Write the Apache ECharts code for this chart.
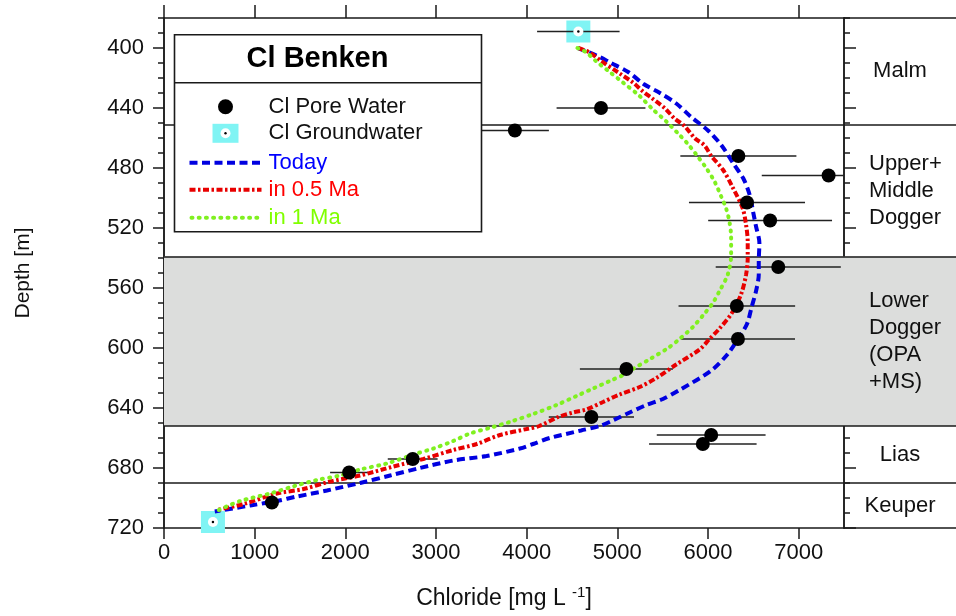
<!DOCTYPE html>
<html><head><meta charset="utf-8">
<script src="https://cdn.jsdelivr.net/npm/echarts@6/dist/echarts.min.js"></script>
<style>html,body{margin:0;padding:0;background:#fff}#c{width:956px;height:616px}</style>
</head><body><div id="c"></div>
<script>
// ---------- data ----------
const xTicks = [0, 1000, 2000, 3000, 4000, 5000, 6000, 7000];
const depthTicks = [400, 440, 480, 520, 560, 600, 640, 680, 720];

const poreDepth = [440, 455, 472, 485, 503, 515, 546, 572, 594, 614, 646, 658, 664, 674, 683, 703];
const poreCl    = [4820, 3870, 6335, 7330, 6430, 6685, 6775, 6318, 6330, 5100, 4714, 6035, 5943, 2743, 2042, 1190];
const poreErr   = [490, 375, 640, 737, 640, 683, 690, 643, 630, 513, 470, 600, 593, 275, 210, 60];

const gwDepth = [389, 716];
const gwCl    = [4570, 540];
const gwErr   = [455, 0];

const todayDepth = [400,405,410,416,424,430,437,446,455,465,478,487,498,510,519,530,542,551,562,573,584,594,604,615,628,634,638,643,648,652,655,660,664,667,672,675,680,685,690,695,699,702,705,709];
const todayCl    = [4560,4770,4930,5120,5290,5470,5650,5815,6000,6150,6290,6390,6460,6500,6530,6567,6560,6560,6530,6480,6430,6330,6218,6036,5686,5503,5320,5136,4960,4806,4600,4255,4071,3925,3558,3191,2824,2494,2163,1797,1467,1246,952,560];

const half1Depth = [400,403,408,417,423,429,434,440,447,452,460,465,472,481,493,507,518,529,540,551,564,577,587,594,601,611,620,626,631,636,641,643,646,652,654,658,664,668,674,679,685,689,694,697,704,708];
const half1Cl    = [4570,4696,4806,5026,5172,5283,5393,5521,5631,5741,5852,5962,6036,6163,6273,6383,6420,6438,6438,6420,6366,6260,6127,6017,5907,5650,5430,5246,5026,4842,4659,4512,4350,4140,3999,3705,3448,3191,2861,2530,2163,1833,1539,1246,879,585];

const one1Depth = [400,403,409,416,423,432,441,449,458,464,471,480,489,499,507,516,526,538,551,562,570,577,586,594,600,607,614,617,622,627,632,638,644,649,653,657,662,667,671,677,681,685,688,692,697,702,709];
const one1Cl    = [4560,4659,4769,4916,5062,5246,5393,5540,5686,5778,5870,5980,6072,6146,6200,6237,6255,6255,6218,6127,6053,5962,5833,5686,5560,5370,5172,5100,4916,4732,4550,4330,4071,3830,3610,3375,3191,2971,2751,2457,2163,1943,1687,1440,1170,842,567];

const formationNames  = ['Malm', 'Upper+\nMiddle\nDogger', 'Lower\nDogger\n(OPA\n+MS)', 'Lias', 'Keuper'];
const formationTop    = [380, 451, 539, 652, 690];
const formationBottom = [451, 539, 652, 690, 720];
const shadedFormation = 'Lower\nDogger\n(OPA\n+MS)';

const seriesNames = ['Cl Pore Water', 'Cl Groundwater', 'Today', 'in 0.5 Ma', 'in 1 Ma'];

// ---------- style ----------
const FONT = 'Liberation Sans, Arial, sans-serif';
const C_BLUE = '#0000e0', C_RED = '#e80000', C_GREEN = '#80f020', C_CYAN = '#80f4f4', C_GRAY = '#dcdddc', C_LINE = '#1a1a1a';
const Y_MIN = 380, Y_MAX = 720, X_MAX = 7500;

const pairs = (xs, ys) => xs.map((v, i) => [v, ys[i]]);
const boundaryDepths = formationTop.slice(1);

const chart = echarts.init(document.getElementById('c'), null, {renderer: 'canvas'});

function yAx(grid, pos, opts) {
  return Object.assign({
    type: 'value', gridIndex: grid, position: pos, inverse: true, min: Y_MIN, max: Y_MAX,
    splitLine: {show: false},
    axisLine: {show: true, lineStyle: {color: C_LINE, width: 1.5}},
    axisLabel: {show: false}, axisTick: {show: false}
  }, opts);
}

const errorSeries = (xs, ys, es, name) => ({
  type: 'custom', name: name, xAxisIndex: 0, yAxisIndex: 0, z: 4, clip: true, silent: true,
  data: xs.map((v, i) => [v, ys[i], es[i]]),
  renderItem: function (params, api) {
    const x = api.value(0), y = api.value(1), e = api.value(2);
    if (!e) return null;
    const p1 = api.coord([x - e, y]), p2 = api.coord([x + e, y]);
    return {type: 'line', shape: {x1: p1[0], y1: p1[1], x2: p2[0], y2: p2[1]},
      style: {stroke: '#222', lineWidth: 1.6}};
  }
});

const LZ = 100;
const option = {
  animation: false,
  backgroundColor: '#fff',
  textStyle: {fontFamily: FONT},
  grid: [
    {left: 164, right: 112, top: 18, bottom: 88, containLabel: false},
    {left: 844, right: 0, top: 18, bottom: 88, containLabel: false}
  ],
  xAxis: [
    {type: 'value', gridIndex: 0, position: 'bottom', min: 0, max: X_MAX, interval: 1000,
     splitLine: {show: false},
     axisLine: {show: true, onZero: false, lineStyle: {color: C_LINE, width: 1.5}},
     axisTick: {show: true, length: 11, lineStyle: {color: C_LINE, width: 1.5}, customValues: xTicks},
     axisLabel: {show: true, margin: 14, fontSize: 22, color: '#111', fontFamily: FONT, customValues: xTicks,
                 formatter: v => String(v)},
     name: 'Chloride [mg L {sup|-1}]', nameLocation: 'middle', nameGap: 57,
     nameTextStyle: {fontSize: 23, color: '#111', fontFamily: FONT,
       rich: {sup: {fontSize: 15, color: '#111', fontFamily: FONT, verticalAlign: 'top', padding: [0, 0, 12, 0]}}}},
    {type: 'value', gridIndex: 0, position: 'top', min: 0, max: X_MAX, interval: 1000,
     splitLine: {show: false},
     axisLine: {show: true, onZero: false, lineStyle: {color: C_LINE, width: 1.5}},
     axisTick: {show: true, length: 13, lineStyle: {color: C_LINE, width: 1.5}, customValues: xTicks},
     axisLabel: {show: false}},
    {type: 'value', gridIndex: 1, position: 'bottom', min: 0, max: 1, splitLine: {show: false},
     axisLine: {show: true, onZero: false, lineStyle: {color: C_LINE, width: 1.5}},
     axisTick: {show: false}, axisLabel: {show: false}},
    {type: 'value', gridIndex: 1, position: 'top', min: 0, max: 1, splitLine: {show: false},
     axisLine: {show: true, onZero: false, lineStyle: {color: C_LINE, width: 1.5}},
     axisTick: {show: false}, axisLabel: {show: false}}
  ],
  yAxis: [
    yAx(0, 'left', {
      axisTick: {show: true, length: 11, lineStyle: {color: C_LINE, width: 1.5}, customValues: depthTicks},
      axisLabel: {show: true, margin: 20, fontSize: 22, color: '#111', fontFamily: FONT, customValues: depthTicks},
      name: 'Depth [m]', nameLocation: 'middle', nameRotate: 90, nameGap: 130,
      nameTextStyle: {fontSize: 21, color: '#111', fontFamily: FONT}
    }),
    yAx(0, 'left', {interval: 10, axisTick: {show: true, length: 6, lineStyle: {color: C_LINE, width: 1.5}}}),
    yAx(0, 'right', {axisTick: {show: true, length: 12, lineStyle: {color: C_LINE, width: 1.5}, customValues: depthTicks}}),
    yAx(0, 'right', {interval: 10, axisTick: {show: true, length: 6, lineStyle: {color: C_LINE, width: 1.5}}}),
    yAx(1, 'left', {axisLine: {show: false}})
  ],
  series: [
    {type: 'line', name: 'bands', xAxisIndex: 0, yAxisIndex: 0, data: [], z: 1, silent: true,
     markArea: {silent: true, itemStyle: {color: C_GRAY},
       data: formationNames.map((n, i) => n === shadedFormation ? [{yAxis: formationTop[i]}, {yAxis: formationBottom[i]}] : null).filter(Boolean)},
     markLine: {silent: true, symbol: ['none', 'none'], label: {show: false},
       lineStyle: {color: C_LINE, width: 1.6, type: 'solid'},
       data: boundaryDepths.map(d => ({yAxis: d}))}},
    {type: 'line', name: 'formations', xAxisIndex: 2, yAxisIndex: 4, data: [], z: 1, silent: true,
     markArea: {silent: true,
       data: formationNames.map((n, i) => {
         const multi = n.indexOf('\n') >= 0;
         return [{yAxis: formationTop[i], name: n,
                  itemStyle: {color: n === shadedFormation ? C_GRAY : 'rgba(0,0,0,0)'},
                  label: {show: true, position: multi ? 'insideLeft' : 'inside', distance: multi ? 25 : 0,
                          align: multi ? 'left' : 'center', verticalAlign: 'middle',
                          fontSize: 22, lineHeight: 27, color: '#111', fontFamily: FONT}},
                 {yAxis: formationBottom[i]}];
       })},
     markLine: {silent: true, symbol: ['none', 'none'], label: {show: false},
       lineStyle: {color: C_LINE, width: 1.6, type: 'solid'},
       data: boundaryDepths.map(d => ({yAxis: d}))}},
    errorSeries(gwCl, gwDepth, gwErr, 'gwErr'),
    errorSeries(poreCl, poreDepth, poreErr, 'poreErr'),
    {type: 'line', name: seriesNames[2], xAxisIndex: 0, yAxisIndex: 0, data: pairs(todayCl, todayDepth),
     showSymbol: false, smooth: 0.3, z: 5,
     lineStyle: {color: C_BLUE, width: 4, type: [8, 4.5], cap: 'butt'}},
    {type: 'line', name: seriesNames[3], xAxisIndex: 0, yAxisIndex: 0, data: pairs(half1Cl, half1Depth),
     showSymbol: false, smooth: 0.3, z: 6,
     lineStyle: {color: C_RED, width: 4, type: [6, 2.5, 2.5, 2.5], cap: 'butt'}},
    {type: 'line', name: seriesNames[4], xAxisIndex: 0, yAxisIndex: 0, data: pairs(one1Cl, one1Depth),
     showSymbol: false, smooth: 0.3, z: 7,
     lineStyle: {color: C_GREEN, width: 4, type: [1, 6.2], cap: 'round'}},
    {type: 'scatter', name: seriesNames[0], xAxisIndex: 0, yAxisIndex: 0, data: pairs(poreCl, poreDepth),
     symbol: 'circle', symbolSize: 14, z: 8, itemStyle: {color: '#000', opacity: 1}},
    {type: 'scatter', name: seriesNames[1], xAxisIndex: 0, yAxisIndex: 0, data: pairs(gwCl, gwDepth),
     symbol: 'rect', symbolSize: [24, 22], z: 3, itemStyle: {color: C_CYAN, opacity: 1}},
    {type: 'scatter', name: 'gwRing', xAxisIndex: 0, yAxisIndex: 0, data: pairs(gwCl, gwDepth),
     symbol: 'circle', symbolSize: 10, z: 9, itemStyle: {color: '#fff', opacity: 1}},
    {type: 'scatter', name: 'gwDot', xAxisIndex: 0, yAxisIndex: 0, data: pairs(gwCl, gwDepth),
     symbol: 'circle', symbolSize: 2.5, z: 10, itemStyle: {color: '#000', opacity: 1}}
  ],
  graphic: [
    {type: 'group', left: 172, top: 34, z: LZ, zlevel: 1, children: [
      {type: 'rect', z: LZ, shape: {x: 0, y: 0, width: 307, height: 197}, style: {fill: '#fff', stroke: C_LINE, lineWidth: 1.6}},
      {type: 'line', z: LZ + 1, shape: {x1: 0, y1: 48, x2: 307, y2: 48}, style: {stroke: C_LINE, lineWidth: 1.6}},
      {type: 'text', z: LZ + 1, x: 143, y: 24, style: {text: 'Cl Benken', fontSize: 29, fontWeight: 'bold', fontFamily: FONT, fill: '#000', align: 'center', verticalAlign: 'middle'}},
      {type: 'circle', z: LZ + 1, shape: {cx: 51, cy: 72, r: 7.5}, style: {fill: '#000'}},
      {type: 'rect', z: LZ + 1, shape: {x: 38, y: 89, width: 26, height: 19}, style: {fill: C_CYAN}},
      {type: 'circle', z: LZ + 2, shape: {cx: 51, cy: 98.5, r: 5}, style: {fill: '#fff'}},
      {type: 'circle', z: LZ + 3, shape: {cx: 51, cy: 98.5, r: 1.2}, style: {fill: '#000'}},
      {type: 'line', z: LZ + 1, shape: {x1: 15, y1: 128, x2: 87, y2: 128}, style: {stroke: C_BLUE, lineWidth: 4, lineDash: [8, 4.5]}},
      {type: 'line', z: LZ + 1, shape: {x1: 15, y1: 155, x2: 87, y2: 155}, style: {stroke: C_RED, lineWidth: 4, lineDash: [6, 2.5, 2.5, 2.5]}},
      {type: 'line', z: LZ + 1, shape: {x1: 17, y1: 183, x2: 85, y2: 183}, style: {stroke: C_GREEN, lineWidth: 4, lineDash: [1, 6.2], lineCap: 'round'}},
      {type: 'text', z: LZ + 1, x: 94, y: 72, style: {text: seriesNames[0], fontSize: 22, fontFamily: FONT, fill: '#111', verticalAlign: 'middle'}},
      {type: 'text', z: LZ + 1, x: 94, y: 98, style: {text: seriesNames[1], fontSize: 22, fontFamily: FONT, fill: '#111', verticalAlign: 'middle'}},
      {type: 'text', z: LZ + 1, x: 94, y: 128, style: {text: seriesNames[2], fontSize: 22, fontFamily: FONT, fill: '#0000ff', verticalAlign: 'middle'}},
      {type: 'text', z: LZ + 1, x: 94, y: 155, style: {text: seriesNames[3], fontSize: 22, fontFamily: FONT, fill: '#ff0000', verticalAlign: 'middle'}},
      {type: 'text', z: LZ + 1, x: 94, y: 183, style: {text: seriesNames[4], fontSize: 22, fontFamily: FONT, fill: '#80ff00', verticalAlign: 'middle'}}
    ]}
  ]
};
chart.setOption(option);
</script>
</body></html>
